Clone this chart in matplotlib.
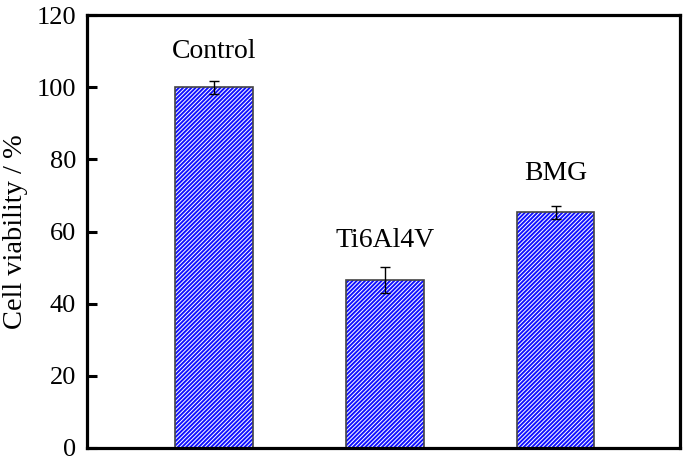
import matplotlib.pyplot as plt
import matplotlib as mpl
import numpy as np

mpl.rcParams['font.family'] = ['Liberation Serif', 'DejaVu Serif']
mpl.rcParams['hatch.linewidth'] = 1.4

groups = ['Control', 'Ti6Al4V', 'BMG']
viability = [100.0, 46.5, 65.3]
errors = [1.8, 3.6, 1.7]
label_y = [110, 57.5, 76]

x = np.arange(len(groups))

fig = plt.figure(figsize=(6.85, 4.59), dpi=100)
ax = fig.add_axes([0.127, 0.024, 0.866, 0.943])

# hatch layer (blue), then outline layer
ax.bar(x, viability, width=0.455, color='white', edgecolor='#1010ff',
       linewidth=0, hatch='////////', zorder=2)
ax.bar(x, viability, width=0.455, color='none', edgecolor='#444444',
       linewidth=1.2, zorder=2.5)
ax.errorbar(x, viability, yerr=errors, fmt='none', ecolor='black',
            elinewidth=1.0, capsize=3.5, capthick=1.0, zorder=3)

for xi, yi, name in zip(x, label_y, groups):
    ax.text(xi, yi, name, ha='center', va='center', fontsize=20)

ax.set_xlim(-0.745, 2.73)
ax.set_ylim(0, 120)
ax.set_yticks(np.arange(0, 121, 20))
ax.set_xticks([])
ax.set_ylabel('Cell viability / %', fontsize=20.5, labelpad=6)
ax.tick_params(axis='y', direction='in', length=7, width=2.2, labelsize=19, pad=8)
for sp in ax.spines.values():
    sp.set_linewidth(2.3)

fig.savefig('out.png', dpi=100)
